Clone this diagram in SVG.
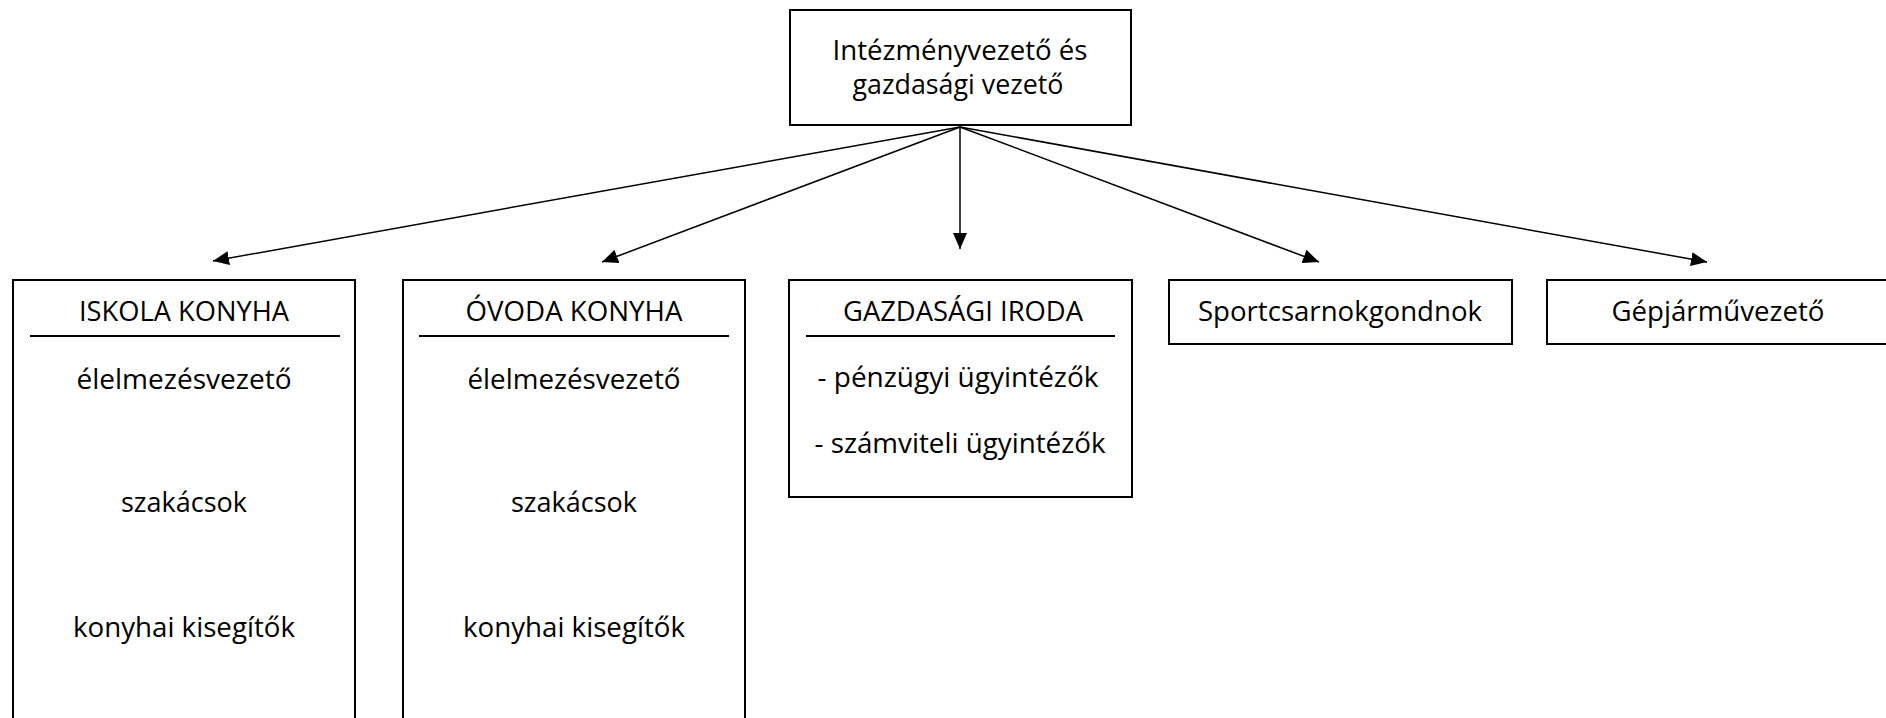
<svg xmlns="http://www.w3.org/2000/svg" width="1886" height="718" viewBox="0 0 1886 718">
<style>
.box{fill:#fff;stroke:#000;stroke-width:2}
.div{stroke:#000;stroke-width:2}
.t{font-family:"Open Sans","Liberation Sans",sans-serif;font-size:27.5px;fill:#000;text-anchor:middle}
.c{stroke:#000;stroke-width:1.5;fill:none;marker-end:url(#ah)}
</style>
<defs>
<marker id="ah" markerUnits="userSpaceOnUse" markerWidth="17" markerHeight="14" refX="16" refY="7" orient="auto">
<path d="M0,0 L16,7 L0,14 z" fill="#000"/>
</marker>
</defs>
<rect width="1886" height="718" fill="#fff"/>
<g id="connectors">
<line class="c" x1="960" y1="127" x2="213" y2="261"/>
<line class="c" x1="960" y1="127" x2="602" y2="262"/>
<line class="c" x1="960" y1="127" x2="960" y2="249"/>
<line class="c" x1="960" y1="127" x2="1319" y2="262"/>
<line class="c" x1="960" y1="127" x2="1707" y2="262"/>
</g>
<g id="top">
<rect class="box" x="790" y="10" width="341" height="115"/>
<text class="t" x="960" y="60" textLength="255" lengthAdjust="spacingAndGlyphs">Intézményvezető és</text>
<text class="t" x="958" y="94" textLength="211" lengthAdjust="spacingAndGlyphs">gazdasági vezető</text>
</g>
<g id="iskola">
<rect class="box" x="13" y="280" width="342" height="460"/>
<line class="div" x1="30" y1="336" x2="340" y2="336"/>
<text class="t" x="184" y="321" textLength="210" lengthAdjust="spacingAndGlyphs">ISKOLA KONYHA</text>
<text class="t" x="184" y="389" textLength="215" lengthAdjust="spacingAndGlyphs">élelmezésvezető</text>
<text class="t" x="184" y="512" textLength="126" lengthAdjust="spacingAndGlyphs">szakácsok</text>
<text class="t" x="184" y="637" textLength="222" lengthAdjust="spacingAndGlyphs">konyhai kisegítők</text>
</g>
<g id="ovoda">
<rect class="box" x="403" y="280" width="342" height="460"/>
<line class="div" x1="419" y1="336" x2="729" y2="336"/>
<text class="t" x="574" y="321" textLength="217" lengthAdjust="spacingAndGlyphs">ÓVODA KONYHA</text>
<text class="t" x="574" y="389" textLength="213" lengthAdjust="spacingAndGlyphs">élelmezésvezető</text>
<text class="t" x="574" y="512" textLength="126" lengthAdjust="spacingAndGlyphs">szakácsok</text>
<text class="t" x="574" y="637" textLength="222" lengthAdjust="spacingAndGlyphs">konyhai kisegítők</text>
</g>
<g id="gazdasagi">
<rect class="box" x="789" y="280" width="343" height="217"/>
<line class="div" x1="806" y1="336" x2="1115" y2="336"/>
<text class="t" x="963" y="321" textLength="240" lengthAdjust="spacingAndGlyphs">GAZDASÁGI IRODA</text>
<text class="t" x="958" y="387" textLength="281" lengthAdjust="spacingAndGlyphs">- pénzügyi ügyintézők</text>
<text class="t" x="960" y="453" textLength="291" lengthAdjust="spacingAndGlyphs">- számviteli ügyintézők</text>
</g>
<g id="sport">
<rect class="box" x="1169" y="280" width="343" height="64"/>
<text class="t" x="1340" y="321" textLength="284" lengthAdjust="spacingAndGlyphs">Sportcsarnokgondnok</text>
</g>
<g id="gepjarmu">
<rect class="box" x="1547" y="280" width="350" height="64"/>
<text class="t" x="1718" y="321" textLength="213" lengthAdjust="spacingAndGlyphs">Gépjárművezető</text>
</g>
</svg>
